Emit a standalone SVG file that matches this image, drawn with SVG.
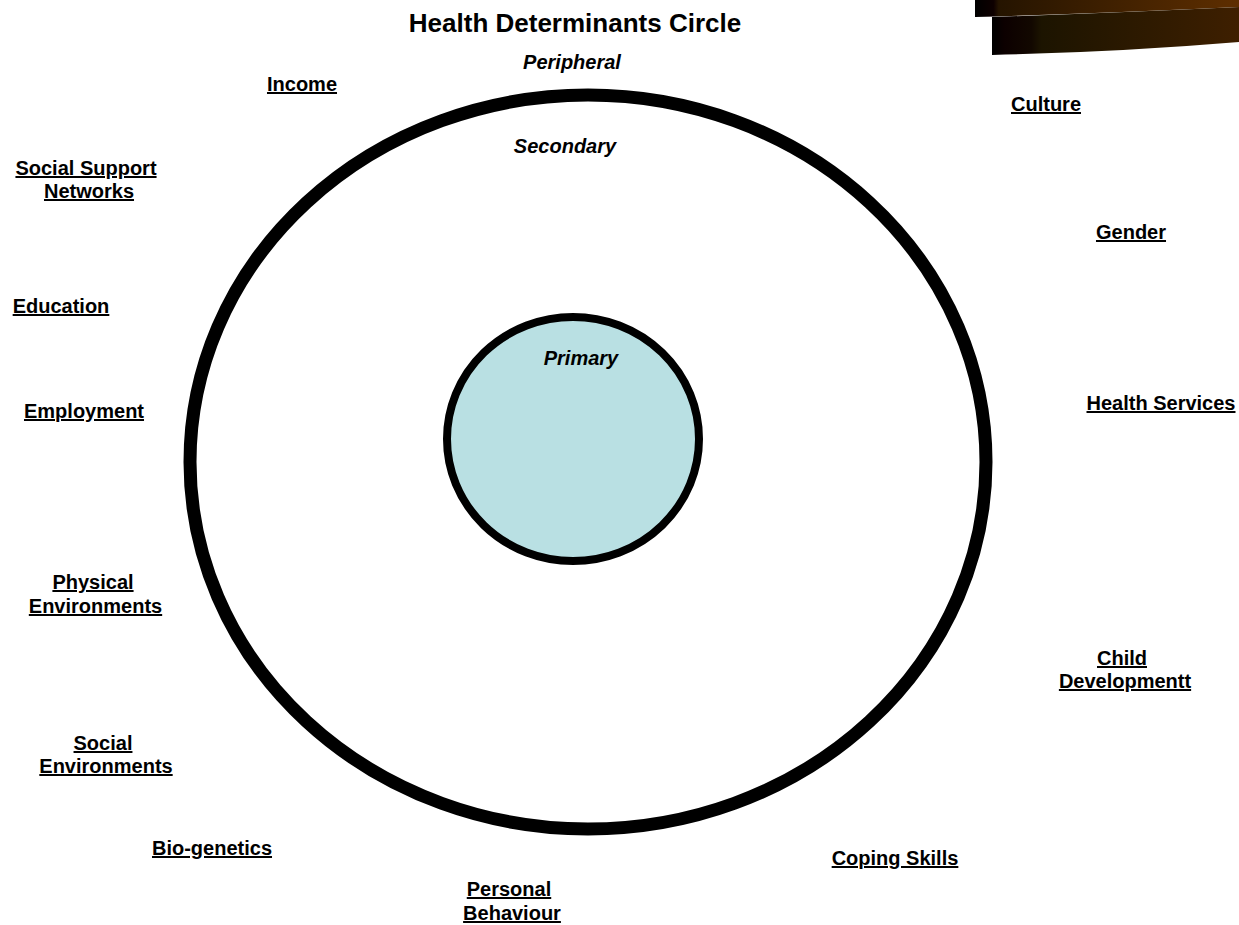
<svg xmlns="http://www.w3.org/2000/svg" width="1239" height="925" viewBox="0 0 1239 925">
  <style>
    text { font-family: "Liberation Sans", Arial, sans-serif; font-weight: bold; fill: #000; }
    .lbl { font-size: 20px; text-decoration: underline; text-anchor: middle; }
    .lvl { font-size: 20px; font-style: italic; text-anchor: middle; }
    .title { font-size: 26px; text-anchor: middle; }
  </style>
  <defs>
    <linearGradient id="band1" x1="975" y1="0" x2="1239" y2="0" gradientUnits="userSpaceOnUse">
      <stop offset="0" stop-color="#000000"/>
      <stop offset="0.07" stop-color="#0e0000"/>
      <stop offset="0.09" stop-color="#251400"/>
      <stop offset="1" stop-color="#5e2e00"/>
    </linearGradient>
    <linearGradient id="band2" x1="992" y1="0" x2="1239" y2="0" gradientUnits="userSpaceOnUse">
      <stop offset="0" stop-color="#000000"/>
      <stop offset="0.05" stop-color="#0c0000"/>
      <stop offset="0.16" stop-color="#120800"/>
      <stop offset="0.2" stop-color="#1c1400"/>
      <stop offset="1" stop-color="#3e1f00"/>
    </linearGradient>
  </defs>

  <g id="decoration">
    <path d="M975,0 H1239 V7 Q1110,13 975,17 Z" fill="url(#band1)"/>
    <path d="M992,17 Q1110,13 1239,7 V42 Q1120,52 992,55 Z" fill="url(#band2)"/>
  </g>

  <g id="title">
    <text class="title" x="575" y="32">Health Determinants Circle</text>
  </g>

  <g id="outer-circle">
    <ellipse cx="588" cy="462" rx="398" ry="367" fill="#ffffff" stroke="#000000" stroke-width="13"/>
  </g>

  <g id="inner-circle">
    <ellipse cx="573" cy="439" rx="126" ry="122" fill="#b9e0e3" stroke="#000000" stroke-width="8"/>
  </g>

  <g id="level-labels">
    <text class="lvl" x="572" y="69">Peripheral</text>
    <text class="lvl" x="565" y="153">Secondary</text>
    <text class="lvl" x="581" y="365">Primary</text>
  </g>

  <g id="connectors"></g>

  <g id="node-income"><text class="lbl" x="302" y="91">Income</text></g>
  <g id="node-social-support"><text class="lbl" x="86" y="175">Social Support</text><text class="lbl" x="89" y="198">Networks</text></g>
  <g id="node-education"><text class="lbl" x="61" y="313">Education</text></g>
  <g id="node-employment"><text class="lbl" x="84" y="418">Employment</text></g>
  <g id="node-physical"><text class="lbl" x="93" y="589">Physical</text><text class="lbl" x="95.5" y="613">Environments</text></g>
  <g id="node-social-env"><text class="lbl" x="103" y="750">Social</text><text class="lbl" x="106" y="773">Environments</text></g>
  <g id="node-biogenetics"><text class="lbl" x="212" y="855">Bio-genetics</text></g>
  <g id="node-personal"><text class="lbl" x="509" y="896">Personal</text><text class="lbl" x="512" y="920">Behaviour</text></g>
  <g id="node-coping"><text class="lbl" x="895" y="865">Coping Skills</text></g>
  <g id="node-child"><text class="lbl" x="1122" y="665">Child</text><text class="lbl" x="1125" y="688">Developmentt</text></g>
  <g id="node-health-services"><text class="lbl" x="1161" y="410">Health Services</text></g>
  <g id="node-gender"><text class="lbl" x="1131" y="239">Gender</text></g>
  <g id="node-culture"><text class="lbl" x="1046" y="111">Culture</text></g>
</svg>
